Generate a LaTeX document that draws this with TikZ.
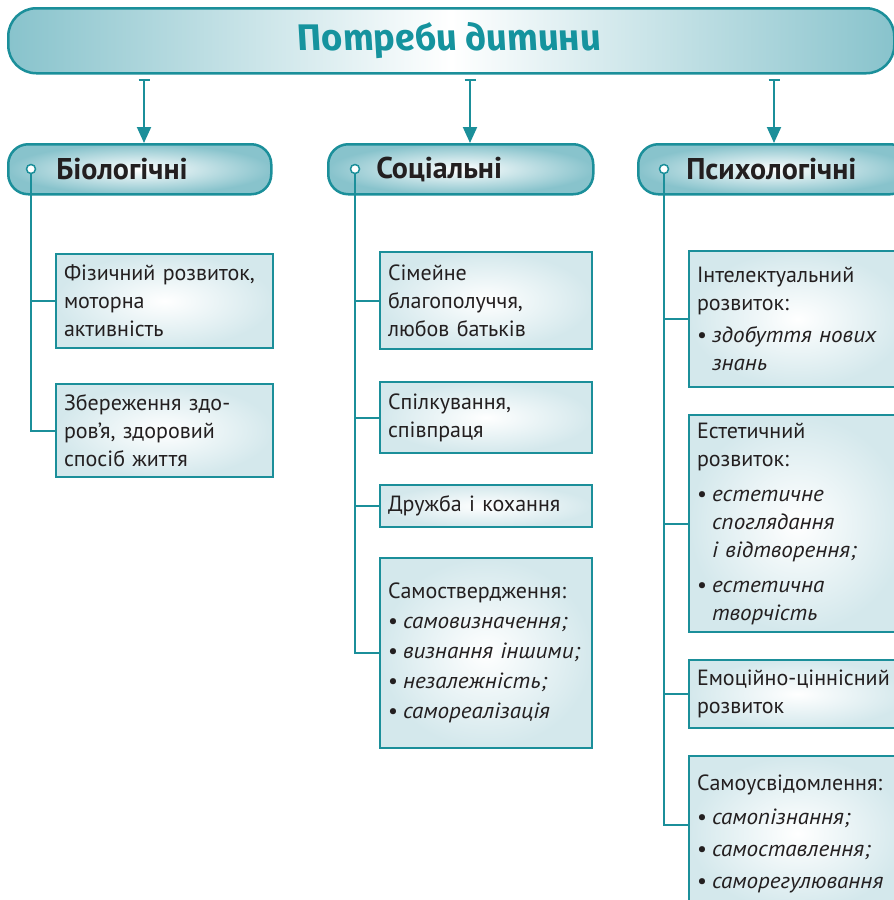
\documentclass[tikz,border=0pt]{standalone}
\usepackage{fontspec}
\setmainfont{PT Sans}[ItalicFeatures={FakeStretch=1.05}]
\newfontfamily\titlefont{Fira Sans}[BoldItalicFeatures={FakeSlant=-0.2}]
\usetikzlibrary{arrows.meta}

\definecolor{tealLine}{HTML}{1B8F9A}
\definecolor{tealFill}{HTML}{88C3CC}
\definecolor{boxFill}{HTML}{D4E8EC}
\definecolor{titleText}{HTML}{15939E}
\definecolor{txt}{HTML}{231F20}

\newcommand{\bul}{\makebox[15pt][l]{\textbullet}}
\newcommand{\ind}{\hspace*{15pt}}

\begin{document}
\begin{tikzpicture}[
                    x=1pt, y=-1pt,
                    every node/.style={
                        font=\fontsize{22}{28}\selectfont,
                        text=txt
                    },
                    title/.style={
                        draw=tealLine, line width=2.5pt,
                        rounded corners=28pt,
                        left color=tealFill, right color=tealFill, middle color=white,
                        minimum width=886pt, minimum height=65pt,
                        anchor=north west,
                        font=\titlefont\bfseries\itshape\fontsize{37}{40}\selectfont,
                        text=titleText
                    },
                    head/.style={
                        draw=tealLine, line width=2.5pt,
                        rounded corners=20pt,
                        inner color=white, outer color=tealFill,
                        minimum height=50pt, inner xsep=0pt,
                        anchor=north west, align=left,
                        font=\bfseries\fontsize{30}{32}\selectfont
                    },
                    item/.style={
                        draw=tealLine, line width=2pt,
                        inner color=white, outer color=boxFill,
                        inner xsep=8pt, text width=201pt,
                        anchor=north west, align=left
                    },
                    dot/.style={
                        circle, draw=tealLine, line width=1.5pt,
                        fill=white, inner sep=0pt, minimum size=9pt
                    },
                    link/.style={draw=tealLine, line width=2pt},
                    feed/.style={
                        draw=tealLine, line width=2pt, shorten <=4pt,
                        {Bar[width=11pt,line width=2pt]}-{Triangle[length=16pt,width=14pt]}
                    }
                ]
                    \useasboundingbox (0,0) rectangle (894,900);
                    \clip (0,0) rectangle (894,900);

                    \node[title] (ttl) at (7,7) {Потреби дитини};

                    \node[head, minimum width=263pt, text width=167pt] (hBio) at (7,143) {Біологічні};
                    \node[head, minimum width=265pt, text width=169pt] (hSoc) at (327,143) {Соціальні};
                    \node[head, minimum width=272pt, text width=176pt] (hPsy) at (637,143) {Психологічні};

                    \node[dot] (dBio) at (31,169) {};
                    \node[dot] (dSoc) at (355,169) {};
                    \node[dot] (dPsy) at (664,169) {};

                    \coordinate (aBio) at (144,0);
                    \coordinate (aSoc) at (470,0);
                    \coordinate (aPsy) at (774,0);

                    % Biological
                    \node[item, minimum height=94pt] (bBio1) at (55,253) {Фізичний розвиток,\\моторна\\активність};
                    \node[item, minimum height=93pt] (bBio2) at (55,383) {Збереження здо-\\ров’я, здоровий\\спосіб життя};

                    % Social
                    \node[item, text width=196pt, minimum height=97pt] (bSoc1) at (379,251) {Сімейне\\благополуччя,\\любов батьків};
                    \node[item, text width=196pt, minimum height=71pt] (bSoc2) at (379,381) {Спілкування,\\співпраця};
                    \node[item, text width=196pt, minimum height=42pt] (bSoc3) at (379,484) {Дружба і кохання};
                    \node[item, text width=196pt, minimum height=190pt] (bSoc4) at (379,557) {Самоствердження:\\[2pt]
                        \bul\textit{самовизначення;}\\[2pt]
                        \bul\textit{визнання~іншими;}\\[2pt]
                        \bul\textit{незалежність;}\\[2pt]
                        \bul\textit{самореалізація}};

                    % Psychological
                    \node[item, minimum height=136pt] (bPsy1) at (688,250) {Інтелектуальний\\розвиток:\\[4pt]
                        \bul\textit{здобуття~нових}\\\ind\textit{знань}};
                    \node[item, minimum height=217pt] (bPsy2) at (688,414) {Естетичний\\розвиток:\\[7pt]
                        \bul\textit{естетичне}\\\ind\textit{споглядання}\\\ind\textit{і~відтворення;}\\[7pt]
                        \bul\textit{естетична}\\\ind\textit{творчість}};
                    \node[item, minimum height=68pt] (bPsy3) at (688,659) {Емоційно-ціннісний\\розвиток};
                    \node[item, minimum height=155pt] (bPsy4) at (688,755) {Самоусвідомлення:\\[6pt]
                        \bul\textit{самопізнання;}\\[4pt]
                        \bul\textit{самоставлення;}\\[4pt]
                        \bul\textit{саморегулювання}};

                    % Edges
                    \draw[feed] (ttl.south -| aBio) -- (hBio.north -| aBio);
                    \draw[feed] (ttl.south -| aSoc) -- (hSoc.north -| aSoc);
                    \draw[feed] (ttl.south -| aPsy) -- (hPsy.north -| aPsy);

                    \draw[link] (dBio.south) |- (bBio2.west);
                    \draw[link] (dBio |- bBio1.west) -- (bBio1.west);

                    \draw[link] (dSoc.south) |- (bSoc4.west);
                    \draw[link] (dSoc |- bSoc1.west) -- (bSoc1.west);
                    \draw[link] (dSoc |- bSoc2.west) -- (bSoc2.west);
                    \draw[link] (dSoc |- bSoc3.west) -- (bSoc3.west);

                    \draw[link] (dPsy.south) |- ([yshift=9pt]bPsy4.west);
                    \draw[link] (dPsy |- bPsy1.west) -- (bPsy1.west);
                    \draw[link] (dPsy |- bPsy2.west) -- (bPsy2.west);
                    \draw[link] (dPsy |- bPsy3.west) -- (bPsy3.west);
                \end{tikzpicture}
\end{document}
